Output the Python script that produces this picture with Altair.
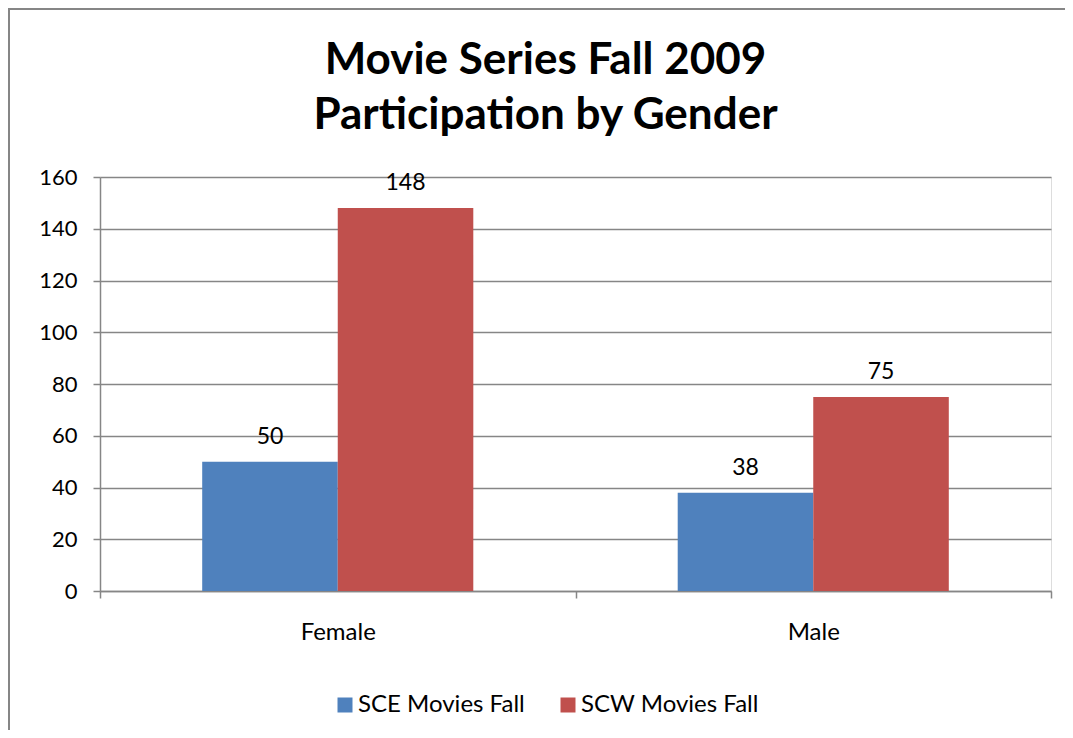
import altair as alt
import pandas as pd

categories = ["Female", "Male"]
series = ["SCE Movies Fall", "SCW Movies Fall"]
sce_values = [50, 38]
scw_values = [148, 75]
y_ticks = [0, 20, 40, 60, 80, 100, 120, 140, 160]
colors = ["#4F81BD", "#C0504D"]

rows = []
for c, a, b in zip(categories, sce_values, scw_values):
    rows.append({"gender": c, "series": series[0], "value": a})
    rows.append({"gender": c, "series": series[1], "value": b})
df = pd.DataFrame(rows)

FONT = "Lato"
GRAY = "#868686"

base = alt.Chart(df).encode(
    x=alt.X(
        "gender:N",
        sort=categories,
        scale=alt.Scale(paddingInner=0, paddingOuter=0),
        axis=alt.Axis(
            title=None, labelAngle=0, tickBand="extent", ticks=True, tickSize=7,
            tickColor=GRAY, tickWidth=1.5, domainColor=GRAY, domainWidth=1.5,
            labelFontSize=24, labelPadding=22, labelColor="black", labelFont=FONT,
            grid=False,
        ),
    ),
    xOffset=alt.XOffset("series:N", sort=series,
                        scale=alt.Scale(paddingInner=0, paddingOuter=0.754)),
)

bars = base.mark_bar().encode(
    y=alt.Y(
        "value:Q",
        scale=alt.Scale(domain=[0, 160], nice=False),
        axis=alt.Axis(
            title=None, values=y_ticks, tickSize=7, tickColor=GRAY, tickWidth=1.5,
            domainColor=GRAY, domainWidth=1.5, grid=True, gridColor=GRAY,
            gridWidth=1.5, labelFontSize=22, labelPadding=16, labelColor="black",
            labelFont=FONT,
        ),
    ),
    color=alt.Color(
        "series:N",
        sort=series,
        scale=alt.Scale(domain=series, range=colors),
        legend=alt.Legend(
            title=None, orient="none", direction="horizontal", legendX=233,
            legendY=516, symbolType="square", symbolSize=225, symbolStrokeWidth=0,
            labelFontSize=24, labelFont=FONT, labelColor="black", labelOffset=1,
            columnPadding=31, labelLimit=400,
        ),
    ),
)

labels = base.mark_text(
    baseline="alphabetic", dy=-18, fontSize=23, font=FONT, color="black"
).encode(y=alt.Y("value:Q"), text=alt.Text("value:Q"))

frame_data = alt.Data(values=[{"k": 1}])
left_edge = alt.Chart(frame_data).mark_rule(color=GRAY, strokeWidth=2).encode(
    x=alt.value(-91), y=alt.value(-169), y2=alt.value(560)
)
top_edge = alt.Chart(frame_data).mark_rule(color=GRAY, strokeWidth=2).encode(
    x=alt.value(-92), x2=alt.value(980), y=alt.value(-168)
)

chart = alt.layer(left_edge, top_edge, bars, labels).properties(
    width=951,
    height=414,
    autosize=alt.AutoSizeParams(type="none"),
    padding={"left": 92, "top": 169, "right": 14, "bottom": 139},
    title=alt.Title(
        text=["Movie Series Fall 2009", "Participation by Gender"],
        font=FONT, fontSize=44, fontWeight="bold", color="black",
        anchor="middle", dx=-30, lineHeight=55, offset=-131,
    ),
).configure_view(stroke=None).configure(font=FONT, background="white")

chart.save("out.html", embed_options={"renderer": "svg", "actions": False})
